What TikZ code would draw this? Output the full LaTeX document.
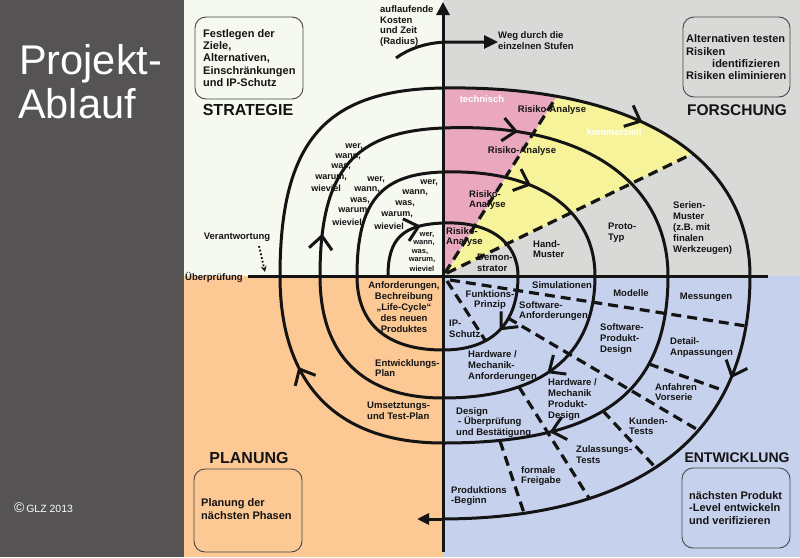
\documentclass[tikz,border=0pt]{standalone}
\usepackage{fontspec}
\setmainfont{Liberation Sans}
\usetikzlibrary{arrows.meta,decorations.markings}
\definecolor{panel}{RGB}{85,83,84}
\definecolor{bgTL}{RGB}{245,249,239}
\definecolor{bgTR}{RGB}{217,217,215}
\definecolor{bgBL}{RGB}{252,200,148}
\definecolor{bgBR}{RGB}{198,210,237}
\definecolor{pinkc}{RGB}{234,168,190}
\definecolor{yelc}{RGB}{247,243,154}
\definecolor{ink}{RGB}{20,20,20}
\definecolor{boxline}{RGB}{70,70,70}
\begin{document}
\begin{tikzpicture}[x=1pt,y=-1pt,
  lbl/.style={font=\fontsize{9.5}{10.8}\selectfont\bfseries, text=ink, inner sep=0pt, align=left},
  lblw/.style={lbl, anchor=west},
  wlbl/.style={lbl, text=white, anchor=center},
  boxtxt/.style={font=\fontsize{11}{12.3}\selectfont\bfseries, text=ink, inner sep=0pt, align=left, anchor=west},
  quadlbl/.style={font=\fontsize{16}{16}\selectfont\bfseries, text=ink, inner sep=0pt},
  spiral/.style={line width=3pt, draw=ink, line cap=round},
  dashln/.style={line width=3.2pt, draw=ink, dash pattern=on 10pt off 6pt},
  roundbox/.style={draw=boxline, line width=0.9pt, rounded corners=11pt},
  werlbl/.style={font=\fontsize{9}{9}\selectfont\bfseries, text=ink, inner sep=0pt, anchor=east},
  smallwer/.style={font=\fontsize{7.5}{7.5}\selectfont\bfseries, text=ink, inner sep=0pt},
  barb/.style={postaction={decorate, decoration={markings, mark=at position #1 with {\draw[line width=3pt, draw=ink, line cap=butt, line join=miter, solid] (-13pt,11.5pt) -- (0pt,0pt) -- (-13pt,-11.5pt);}}}},
]
\useasboundingbox (0,0) rectangle (800,557);
% backgrounds
\fill[panel] (0,0) rectangle (184,557);
\fill[bgTL] (184,0) rectangle (443,276);
\fill[bgTR] (443,0) rectangle (800,276);
\fill[bgBL] (184,276) rectangle (443,557);
\fill[bgBR] (443,276) rectangle (800,557);

% spiral points
\coordinate (L1l) at (388,276); \coordinate (L1t) at (443,223); \coordinate (L1r) at (518,276); \coordinate (L1b) at (443,350);
\coordinate (L2l) at (357,276); \coordinate (L2t) at (443,172); \coordinate (L2r) at (595,276); \coordinate (L2b) at (443,398);
\coordinate (L3l) at (320,276); \coordinate (L3t) at (443,128); \coordinate (L3r) at (668,276); \coordinate (L3b) at (443,443);
\coordinate (L4l) at (280,276); \coordinate (L4t) at (443,88);  \coordinate (L4r) at (750,276); \coordinate (L4b) at (443,519);
\coordinate (Lend) at (417,519);
\coordinate (O) at (443,276);

% pink / yellow wedges
\begin{scope}
  \clip (O) -- (L4t) .. controls (639.5,85) and (750,159.4) .. (L4r) -- cycle;
  \fill[pinkc] (443,276) -- (443,50) -- (586,50) -- (445,273) -- cycle;
  \fill[yelc] (446,274) -- (586,50) -- (800,50) -- (800,101.6) -- cycle;
  \coordinate (d1a) at (445,273); \coordinate (d1b) at (586,50);
  \coordinate (d2a) at (447,273); \coordinate (d2b) at (800,101.6);
  \draw[dashln] (d1a) -- (d1b);
  \draw[dashln] (d2a) -- (d2b);
\end{scope}

% dashed lines bottom right
\coordinate (dAa) at (447,281); \coordinate (dAb) at (485,340);
\coordinate (dBa) at (450,280); \coordinate (dBb) at (746,326);
\coordinate (dCa) at (508,318); \coordinate (dCb) at (698,430);
\coordinate (dDa) at (519,387); \coordinate (dDb) at (589,498);
\coordinate (dEa) at (500,441); \coordinate (dEb) at (524,513);
\coordinate (dFa) at (603,411); \coordinate (dFb) at (655,467);
\coordinate (dHa) at (649,364); \coordinate (dHb) at (725,391);
\foreach \s in {A,B,C,D,E,F,H} {\draw[dashln] (d\s a) -- (d\s b);}

% axes
\coordinate (vbot) at (443,552); \coordinate (vtop) at (443,2);
\draw[line width=3pt, draw=ink, -{Triangle[length=13pt,width=13pt]}] (vbot) -- (vtop);
\coordinate (hl) at (248,276); \coordinate (hr) at (768,276);
\draw[line width=3pt, draw=ink] (hl) -- (hr);

% spiral
\draw[spiral, barb=0.72] (L1l) .. controls (388,237.8) and (403.4,224.6) .. (L1t);
\draw[spiral] (L1t) .. controls (491,221) and (518,243.1) .. (L1r);
\draw[spiral, barb=0.47] (L1r) .. controls (518,324.1) and (491.75,350) .. (L1b);
\draw[spiral] (L1b) .. controls (387.1,350) and (357,324.1) .. (L2l);
\draw[spiral] (L2l) .. controls (357,201.1) and (381.1,173.9) .. (L2t);
\draw[spiral, barb=0.42] (L2t) .. controls (540.3,169) and (595,211.5) .. (L2r);
\draw[spiral, barb=0.5] (L2r) .. controls (595,355.3) and (541.8,398) .. (L2b);
\draw[spiral] (L2b) .. controls (363,398) and (320,355.3) .. (L3l);
\draw[spiral, barb=0.18] (L3l) .. controls (320,169.4) and (354.4,131.7) .. (L3t);
\draw[spiral, barb=0.24] (L3t) .. controls (587,122) and (668,184.2) .. (L3r);
\draw[spiral, barb=0.66] (L3r) .. controls (668,392.9) and (600.5,443) .. (L3b);
\draw[spiral, barb=0.64] (L3b) .. controls (337,443) and (280,384.6) .. (L4l);
\draw[spiral] (L4l) .. controls (280,140.6) and (325.6,89.8) .. (L4t);
\draw[spiral, barb=0.5] (L4t) .. controls (639.5,85) and (750,159.4) .. (L4r);
\draw[spiral, barb=0.23] (L4r) .. controls (750,433.3) and (642.6,518) .. (L4b);
\draw[line width=3pt, draw=ink, -{Triangle[length=12pt,width=11pt]}] (L4b) -- (Lend);

% radius arrow
\coordinate (ra) at (396,58); \coordinate (rb) at (450,42); \coordinate (rc) at (498,42);
\draw[line width=3pt, draw=ink, -{Triangle[length=14pt,width=13pt]}] (ra) .. controls (410,48) and (428,42) .. (rb) -- (rc);

% Verantwortung dotted arrow
\coordinate (va) at (259,246); \coordinate (vb) at (265,272);
\draw[line width=1.8pt, draw=ink, dotted, -{Stealth[length=6pt,width=6pt]}] (va) -- (vb);

% boxes
\draw[roundbox] (195,17) rectangle (303,99);
\draw[roundbox] (683,17) rectangle (790,97);
\draw[roundbox] (194,469) rectangle (302,552);
\draw[roundbox] (682,468) rectangle (790,548);
\node[boxtxt] (tlbox) at (203,58) {Festlegen der\\Ziele,\\Alternativen,\\Einschränkungen\\und IP-Schutz};
\node[boxtxt] (trbox) at (686,57.5) {Alternativen testen\\Risiken\\\hspace*{26pt}identifizieren\\Risiken eliminieren};
\node[boxtxt] (blbox) at (201,509) {Planung der\\nächsten Phasen};
\node[boxtxt] (brbox) at (689,508) {nächsten Produkt\\-Level entwickeln\\und verifizieren};

% quadrant titles
\node[quadlbl] (strat) at (248,110) {STRATEGIE};
\node[quadlbl, font=\fontsize{15.5}{16}\selectfont\bfseries] (forsch) at (737,110) {FORSCHUNG};
\node[quadlbl] (plan) at (249,458) {PLANUNG};
\node[quadlbl, font=\fontsize{14}{15}\selectfont\bfseries] (entwick) at (737,458) {ENTWICKLUNG};

% left panel
\node[font=\fontsize{41.5}{44}\selectfont, text=white, anchor=base west, inner sep=0pt] (title1) at (19,74) {Projekt-};
\node[font=\fontsize{41.5}{44}\selectfont, text=white, anchor=base west, inner sep=0pt] (title2) at (18,118) {Ablauf};
\node[anchor=west, text=white, inner sep=0pt, font=\fontsize{10.5}{12}\selectfont] (copy) at (14,508) {{\fontsize{14}{14}\selectfont ©}\,GLZ 2013};

% axis labels
\node[lblw] (kosten) at (380,26) {auflaufende\\Kosten\\und Zeit\\(Radius)};
\node[lblw] (weg) at (498,41) {Weg durch die\\einzelnen Stufen};
\node[lbl] (verant) at (237,237) {Verantwortung};
\node[lblw] (ueber) at (185,277) {Überprüfung};

% wer wann groups
\foreach \x/\y/\t [count=\i] in {363/147/{wer,}, 361/157/{wann,}, 351/167/{was,}, 347/178/{warum,}, 341/188/{wieviel},
  385/180/{wer,}, 380/190/{wann,}, 370/201/{was,}, 370/211/{warum,}, 362/222/{wieviel},
  438/183/{wer,}, 428/193/{wann,}, 415/204/{was,}, 413/215/{warum,}, 404/226/{wieviel}}
  {\node[werlbl] (w\i) at (\x,\y) {\t};}
\foreach \x/\y/\t [count=\i] in {427/235/{wer,}, 424/243.5/{wann,}, 420/252/{was,}, 422/260/{warum,}, 422/268.5/{wieviel}}
  {\node[smallwer] (s\i) at (\x,\y) {\t};}

% top right labels
\node[wlbl] (techn) at (482,99) {technisch};
\node[lbl] (ra1) at (552,110) {Risiko-Analyse};
\node[wlbl] (komm) at (614,132) {kommerziell};
\node[lbl] (ra2) at (522,151) {Risiko-Analyse};
\node[lblw] (ra3) at (469,200) {Risiko-\\Analyse};
\node[lblw] (ra4) at (446,237) {Risiko-\\Analyse};
\node[lblw] (demo) at (477,263) {Demon-\\strator};
\node[lblw] (hand) at (533,249) {Hand-\\Muster};
\node[lblw] (proto) at (608,232.5) {Proto-\\Typ};
\node[lblw] (serie) at (673,228) {Serien-\\Muster\\(z.B. mit\\finalen\\Werkzeugen)};

% bottom left labels
\node[lbl, align=center] (anf) at (404,307) {Anforderungen,\\Bechreibung\\„Life-Cycle“\\des neuen\\Produktes};
\node[lblw] (entw) at (375,368) {Entwicklungs-\\Plan};
\node[lblw] (umset) at (367,411) {Umsetztungs-\\und Test-Plan};

% bottom right labels
\node[lbl, align=center] (funk) at (490,300) {Funktions-\\Prinzip};
\node[lblw] (ip) at (449,329) {IP-\\Schutz};
\node[lbl] (simu) at (562,285) {Simulationen};
\node[lblw] (swanf) at (519,311) {Software-\\Anforderungen};
\node[lblw] (hwanf) at (468,366) {Hardware /\\Mechanik-\\Anforderungen};
\node[lblw] (hwdes) at (548,399.5) {Hardware /\\Mechanik\\Produkt-\\Design};
\node[lbl] (modelle) at (631,293) {Modelle};
\node[lbl] (mess) at (706,297) {Messungen};
\node[lblw] (swdes) at (600,339) {Software-\\Produkt-\\Design};
\node[lblw] (detail) at (670,347.5) {Detail-\\Anpassungen};
\node[lblw] (anfahr) at (655,392) {Anfahren\\Vorserie};
\node[lblw] (kunden) at (629,426) {Kunden-\\Tests};
\node[lblw] (zulass) at (576,454.5) {Zulassungs-\\Tests};
\node[lblw] (formal) at (521,476) {formale\\Freigabe};
\node[lblw] (prod) at (451,496) {Produktions\\-Beginn};
\node[lblw] (design) at (456,422.5) {Design\\\hspace*{2pt}- Überprüfung\\und Bestätigung};
\end{tikzpicture}
\end{document}
